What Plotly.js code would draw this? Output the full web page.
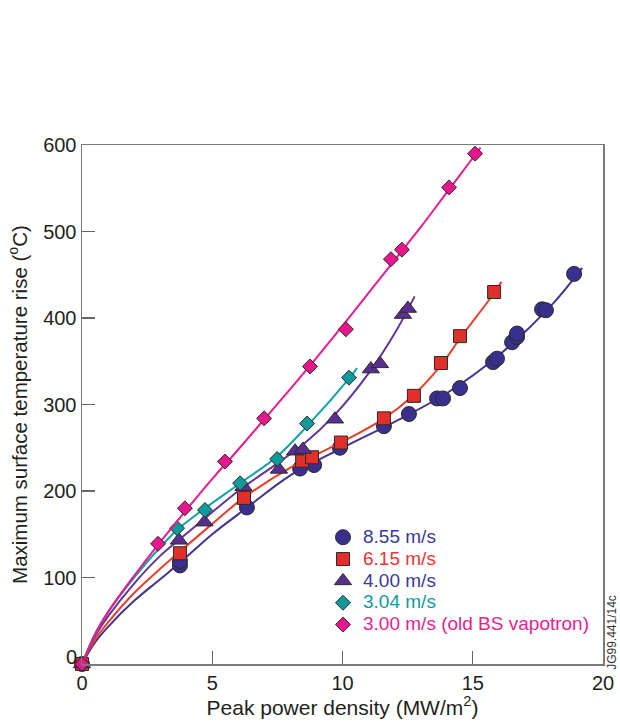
<!DOCTYPE html>
<html>
<head>
<meta charset="utf-8">
<script src="https://cdn.plot.ly/plotly-3.0.1.min.js"></script>
<style>html,body{margin:0;padding:0;background:#fff;}#chart{width:620px;height:722px;}</style>
</head>
<body>
<div id="chart"></div>
<script>
// Measured points (peak power density MW/m2, temperature rise degC)
var x855 = [0, 3.76, 3.76, 6.33, 8.37, 8.91, 9.90, 11.59, 12.55, 13.63, 13.86, 14.51, 15.78, 15.93, 16.51, 16.70, 16.70, 17.66, 17.81, 18.89];
var y855 = [0, 114, 119, 181, 226, 230, 250, 275, 289, 307, 307, 319, 349, 353, 372, 378, 382, 410, 409, 451];
var x615 = [0, 3.76, 6.22, 8.45, 8.83, 9.94, 11.59, 12.74, 13.78, 14.51, 15.82];
var y615 = [0, 128, 192, 235, 239, 256, 284, 310, 348, 379, 430];
var x400 = [0, 3.72, 4.70, 6.20, 7.56, 8.18, 8.48, 9.71, 11.09, 11.44, 12.32, 12.51];
var y400 = [0, 143, 164, 205, 225, 246, 248, 283, 341, 347, 404, 411];
var x304 = [0, 3.65, 4.72, 6.07, 7.49, 8.64, 10.25];
var y304 = [0, 157, 178, 209, 237, 278, 331];
var x300 = [0, 2.92, 3.95, 5.49, 6.99, 8.75, 10.13, 11.86, 12.28, 14.09, 15.09];
var y300 = [0, 139, 180, 234, 284, 344, 387, 468, 479, 551, 590];

// Fitted curves
var cx855 = [0, 0.5, 1, 2, 3, 3.76, 5, 6.3, 8, 10, 12, 14, 16, 18, 19.2];
var cy855 = [0, 25, 43, 73, 98, 117, 150, 180, 218, 250, 280, 313, 357, 414, 458];
var cx615 = [0, 0.5, 1, 2, 3, 3.76, 5, 6.2, 8, 10, 11.6, 12.7, 13.8, 14.5, 15.8, 16.1];
var cy615 = [0, 28, 48, 82, 110, 130, 162, 192, 227, 257, 284, 310, 346, 376, 428, 442];
var cx400 = [0, 0.5, 1, 2, 3, 3.7, 4.7, 6, 7.5, 8.5, 9.7, 11, 12, 12.77];
var cy400 = [0, 32, 55, 93, 125, 143, 168, 200, 232, 254, 288, 336, 382, 425];
var cx304 = [0, 0.5, 1, 2, 3, 3.65, 4.72, 6.07, 7.49, 8.64, 10.25, 10.56];
var cy304 = [0, 35, 60, 100, 135, 155, 180, 209, 240, 275, 330, 342];
var cx300 = [0, 0.5, 1, 2, 3, 4, 5, 6, 7, 8, 9, 10, 11, 12, 13, 14, 15, 15.3];
var cy300 = [0, 34, 60, 102, 141, 178, 214, 248, 283, 318, 354, 391, 429, 467, 505, 545, 585, 597];

var names = ['8.55 m/s', '6.15 m/s', '4.00 m/s', '3.04 m/s', '3.00 m/s (old BS vapotron)'];
var xTicks = [0, 5, 10, 15, 20];
var yTicks = [0, 100, 200, 300, 400, 500, 600];

var lineCols = ['#45338f', '#e8402c', '#623596', '#10a2a5', '#ec1a8d'];
var fillCols = ['#3a2f8c', '#e1302b', '#5a2e8f', '#0e9a9b', '#e8168d'];
var textCols = ['#3b3a9a', '#ee3333', '#3b3a9a', '#109a9a', '#e6238f'];
var symbols = ['circle', 'square', 'triangle-up', 'diamond', 'diamond'];
var sizes = [15, 13, 15, 11.5, 11.5];

var px = [x855, x615, x400, x304, x300];
var py = [y855, y615, y400, y304, y300];
var cxs = [cx855, cx615, cx400, cx304, cx300];
var cys = [cy855, cy615, cy400, cy304, cy300];

var traces = [];
for (var i = 0; i < 5; i++) {
  traces.push({
    x: cxs[i], y: cys[i], type: 'scatter', mode: 'lines',
    line: {color: lineCols[i], width: 2, shape: 'spline', smoothing: 1},
    showlegend: false, hoverinfo: 'skip', cliponaxis: false
  });
  traces.push({
    x: px[i], y: py[i], type: 'scatter', mode: 'markers',
    name: '<span style="color:' + textCols[i] + ';font-size:19px">' + names[i] + '</span>',
    marker: {symbol: symbols[i], size: sizes[i], color: fillCols[i], line: {color: '#2a2a2a', width: 1}},
    cliponaxis: false
  });
}

var axisCommon = {
  showline: true, mirror: true, linecolor: '#7a7a7a', linewidth: 1.5,
  ticks: 'inside', ticklen: 13, tickwidth: 1.3, tickcolor: '#666',
  showgrid: false, zeroline: false,
  tickfont: {family: 'Liberation Sans, Arial, sans-serif', size: 20, color: '#231f20'}
};

var layout = {
  width: 620, height: 722,
  margin: {l: 82, r: 17, t: 145, b: 58},
  paper_bgcolor: '#fff', plot_bgcolor: '#fff',
  font: {family: 'Liberation Sans, Arial, sans-serif', color: '#231f20'},
  xaxis: Object.assign({}, axisCommon, {
    range: [0, 20], tickvals: xTicks, ticktext: xTicks.map(String),
    title: {text: 'Peak power density (MW/m<sup>2</sup>)', font: {size: 21, color: '#231f20'}, standoff: 4}
  }),
  yaxis: Object.assign({}, axisCommon, {
    range: [0, 600], tickvals: yTicks, ticktext: yTicks.map(function (v) { return v === 0 ? '' : String(v); }),
    title: {text: 'Maximum surface temperature rise (<sup>o</sup>C)', font: {size: 20.5, color: '#231f20'}, standoff: 10}
  }),
  legend: {
    x: 0.4626, y: 0.275, xanchor: 'left', yanchor: 'top',
    bgcolor: 'rgba(0,0,0,0)', borderwidth: 0,
    font: {size: 14.5, family: 'Liberation Sans, Arial, sans-serif'},
    tracegroupgap: 0, itemwidth: 30
  },
  annotations: [{
    text: 'JG99.441/14c', xref: 'paper', yref: 'paper',
    x: 1.0, y: 0.06, xanchor: 'left', yanchor: 'middle',
    xshift: 0, textangle: -90, showarrow: false,
    font: {size: 12, color: '#333'}
  }, {
    text: '0', xref: 'paper', yref: 'y', x: 0, y: 0,
    xanchor: 'right', yanchor: 'middle', xshift: -3, yshift: 7,
    showarrow: false, font: {size: 20, color: '#231f20'}
  }],
  showlegend: true
};

Plotly.newPlot('chart', traces, layout, {displayModeBar: false, staticPlot: true});
</script>
</body>
</html>
